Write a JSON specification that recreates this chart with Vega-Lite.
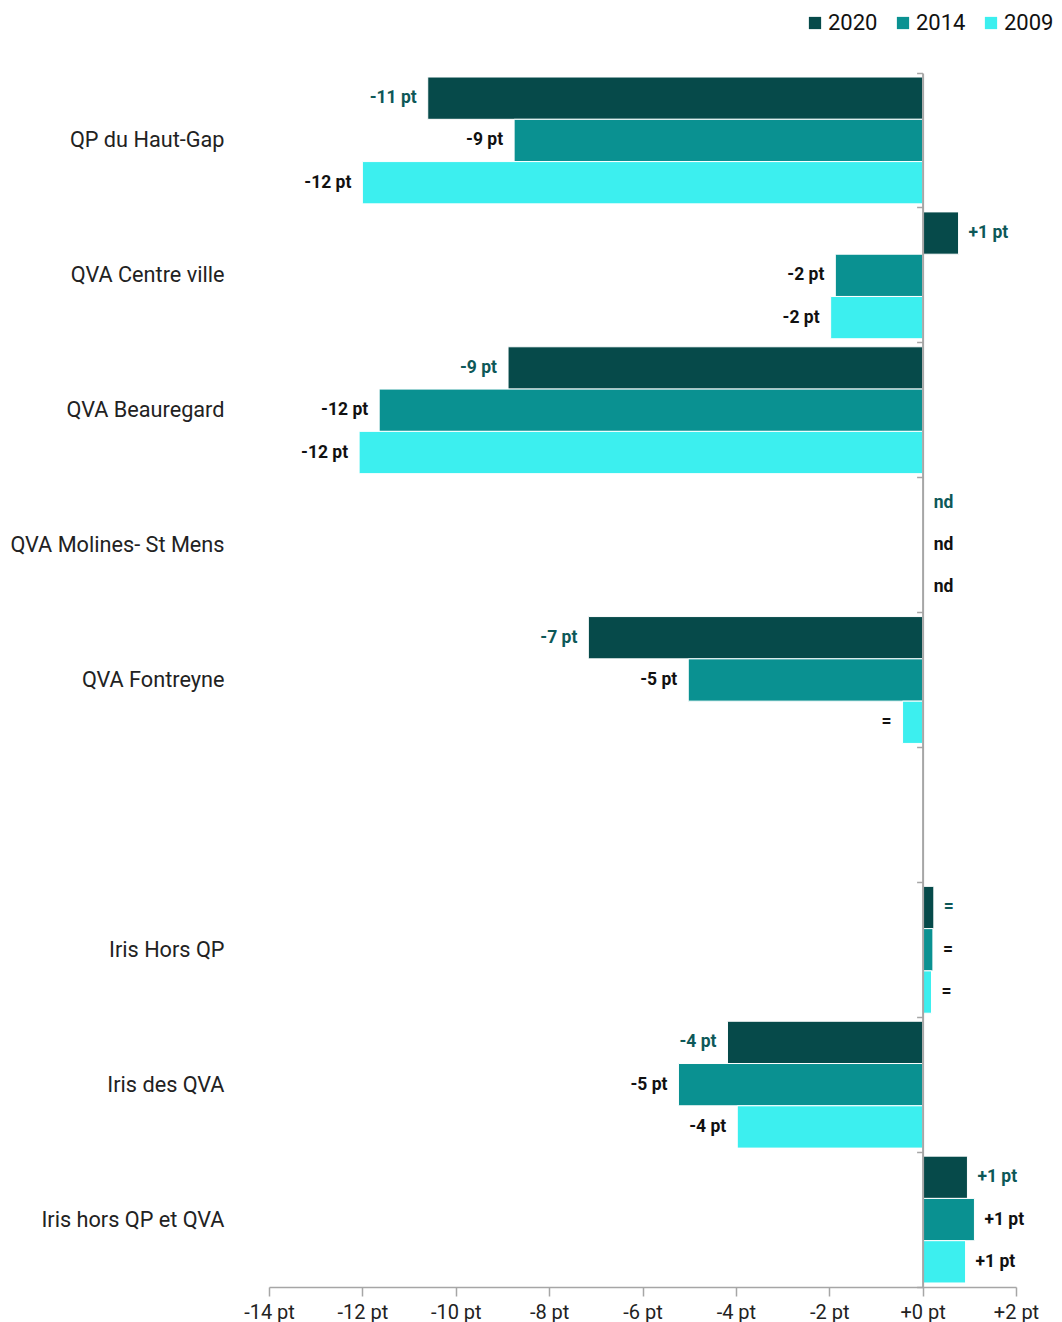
{
  "$schema": "https://vega.github.io/schema/vega-lite/v6.json",
  "width": 747,
  "height": 1214,
  "autosize": "none",
  "padding": {"left": 269, "top": 73, "right": 46, "bottom": 35},
  "background": "white",
  "config": {"view": {"stroke": null}, "font": "Roboto"},
  "data": {"values": [
    {"zone": "QP du Haut-Gap", "year": "2020", "value": -10.6, "label": "-11 pt"},
    {"zone": "QP du Haut-Gap", "year": "2014", "value": -8.75, "label": "-9 pt"},
    {"zone": "QP du Haut-Gap", "year": "2009", "value": -12.0, "label": "-12 pt"},
    {"zone": "QVA Centre ville", "year": "2020", "value": 0.77, "label": "+1 pt"},
    {"zone": "QVA Centre ville", "year": "2014", "value": -1.87, "label": "-2 pt"},
    {"zone": "QVA Centre ville", "year": "2009", "value": -1.97, "label": "-2 pt"},
    {"zone": "QVA Beauregard", "year": "2020", "value": -8.88, "label": "-9 pt"},
    {"zone": "QVA Beauregard", "year": "2014", "value": -11.64, "label": "-12 pt"},
    {"zone": "QVA Beauregard", "year": "2009", "value": -12.07, "label": "-12 pt"},
    {"zone": "QVA Molines- St Mens", "year": "2020", "value": null, "label": "nd"},
    {"zone": "QVA Molines- St Mens", "year": "2014", "value": null, "label": "nd"},
    {"zone": "QVA Molines- St Mens", "year": "2009", "value": null, "label": "nd"},
    {"zone": "QVA Fontreyne", "year": "2020", "value": -7.16, "label": "-7 pt"},
    {"zone": "QVA Fontreyne", "year": "2014", "value": -5.02, "label": "-5 pt"},
    {"zone": "QVA Fontreyne", "year": "2009", "value": -0.43, "label": "="},
    {"zone": "Iris Hors QP", "year": "2020", "value": 0.24, "label": "="},
    {"zone": "Iris Hors QP", "year": "2014", "value": 0.22, "label": "="},
    {"zone": "Iris Hors QP", "year": "2009", "value": 0.19, "label": "="},
    {"zone": "Iris des QVA", "year": "2020", "value": -4.18, "label": "-4 pt"},
    {"zone": "Iris des QVA", "year": "2014", "value": -5.23, "label": "-5 pt"},
    {"zone": "Iris des QVA", "year": "2009", "value": -3.97, "label": "-4 pt"},
    {"zone": "Iris hors QP et QVA", "year": "2020", "value": 0.96, "label": "+1 pt"},
    {"zone": "Iris hors QP et QVA", "year": "2014", "value": 1.11, "label": "+1 pt"},
    {"zone": "Iris hors QP et QVA", "year": "2009", "value": 0.92, "label": "+1 pt"}
  ]},
  "encoding": {
    "y": {
      "field": "zone", "type": "nominal",
      "scale": {
        "domain": ["QP du Haut-Gap", "QVA Centre ville", "QVA Beauregard", "QVA Molines- St Mens", "QVA Fontreyne", " ", "Iris Hors QP", "Iris des QVA", "Iris hors QP et QVA"],
        "paddingInner": 0, "paddingOuter": 0
      }
    },
    "yOffset": {
      "field": "year", "type": "nominal",
      "scale": {"domain": ["2020", "2014", "2009"], "paddingInner": 0, "paddingOuter": 0.095}
    }
  },
  "layer": [
    {
      "mark": {"type": "bar", "stroke": "white", "strokeWidth": 1},
      "encoding": {
        "x": {
          "field": "value", "type": "quantitative",
          "scale": {"domain": [-14, 2], "nice": false, "zero": false},
          "axis": {
            "title": null, "values": [-14, -12, -10, -8, -6, -4, -2, 0, 2],
            "labelExpr": "(datum.value >= 0 ? '+' : '') + datum.value + ' pt'",
            "grid": false, "domainColor": "#a6a6a6", "domainWidth": 1.5,
            "tickColor": "#a6a6a6", "tickSize": 9, "tickWidth": 1.5, "labelFlush": false,
            "labelFontSize": 20, "labelColor": "#222", "labelPadding": 6, "labelFont": "Roboto"
          }
        },
        "y": {
          "field": "zone", "type": "nominal",
          "axis": {
            "title": null, "domain": false, "ticks": false, "labelPadding": 45,
            "labelFontSize": 21.7, "labelColor": "#222", "labelFont": "Roboto", "labelLimit": 400
          }
        },
        "color": {
          "field": "year", "type": "nominal",
          "scale": {"domain": ["2020", "2014", "2009"], "range": ["#064a4a", "#0a9191", "#3cefef"]},
          "legend": {
            "title": null, "orient": "none", "direction": "horizontal",
            "legendX": 535, "legendY": -61, "symbolType": "square", "symbolSize": 150,
            "symbolStrokeWidth": 0, "labelFontSize": 22, "labelFont": "Roboto", "labelColor": "#111",
            "columnPadding": 14, "labelOffset": 2
          }
        }
      }
    },
    {
      "transform": [{"filter": "datum.value != null && datum.value < 0"}],
      "mark": {"type": "text", "align": "right", "baseline": "middle", "dx": -11, "fontSize": 17.5, "fontWeight": "bold", "font": "Roboto"},
      "encoding": {
        "x": {"field": "value", "type": "quantitative"},
        "y": {
          "field": "zone", "type": "nominal",
          "axis": {
            "orient": "left", "offset": -653.6, "title": null, "labels": false,
            "domain": true, "domainColor": "#a6a6a6", "domainWidth": 2,
            "ticks": true, "tickSize": 6, "tickColor": "#a6a6a6", "tickWidth": 1.5,
            "bandPosition": 1, "tickExtra": true, "zindex": 1, "grid": false
          }
        },
        "text": {"field": "label"},
        "color": {"condition": {"test": "datum.year == '2020'", "value": "#0d5858"}, "value": "#111111"}
      }
    },
    {
      "transform": [{"filter": "datum.value != null && datum.value >= 0"}],
      "mark": {"type": "text", "align": "left", "baseline": "middle", "dx": 10, "fontSize": 17.5, "fontWeight": "bold", "font": "Roboto"},
      "encoding": {
        "x": {"field": "value", "type": "quantitative"},
        "y": {"field": "zone", "type": "nominal", "axis": null},
        "text": {"field": "label"},
        "color": {"condition": {"test": "datum.year == '2020'", "value": "#0d5858"}, "value": "#111111"}
      }
    },
    {
      "transform": [{"filter": "datum.value == null"}],
      "mark": {"type": "text", "align": "left", "baseline": "middle", "dx": 11, "fontSize": 17.5, "fontWeight": "bold", "font": "Roboto"},
      "encoding": {
        "x": {"datum": 0, "type": "quantitative"},
        "y": {"field": "zone", "type": "nominal", "axis": null},
        "text": {"field": "label"},
        "color": {"condition": {"test": "datum.year == '2020'", "value": "#0d5858"}, "value": "#111111"}
      }
    }
  ],
  "resolve": {"axis": {"y": "independent"}}
}
